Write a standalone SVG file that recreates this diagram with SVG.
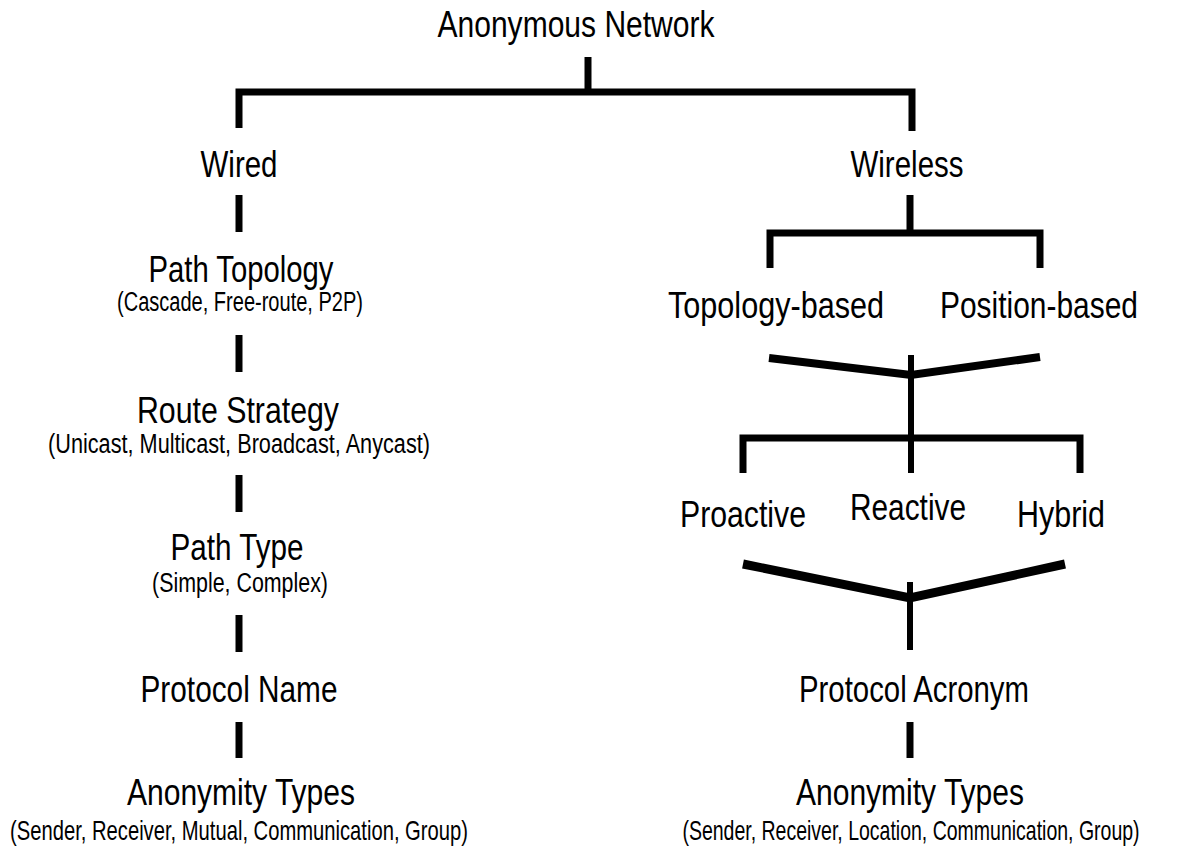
<svg xmlns="http://www.w3.org/2000/svg" width="1183" height="852" viewBox="0 0 1183 852">
<style>
text{font-family:"Liberation Sans Narrow","Liberation Sans",Arial,sans-serif;fill:#000;text-anchor:middle}
.m{font-size:37px}
.s{font-size:27px}
.c line,.c polyline{stroke:#000;fill:none;stroke-linecap:butt;stroke-linejoin:miter}
</style>
<rect width="1183" height="852" fill="#fff"/>
<g class="c" id="connectors" stroke-width="7">
<line x1="588" y1="57" x2="588" y2="92"/>
<polyline points="239,128 239,92 912,92 912,131"/>
<line x1="239" y1="195" x2="239" y2="232"/>
<line x1="239" y1="335" x2="239" y2="372"/>
<line x1="239" y1="475" x2="239" y2="512"/>
<line x1="239" y1="615" x2="239" y2="652"/>
<line x1="239" y1="722" x2="239" y2="758"/>
<line x1="910" y1="195" x2="910" y2="233"/>
<polyline points="770,268 770,233 1040,233 1040,268"/>
<polyline points="769,358 911,375 1040,357" stroke-width="8"/>
<line x1="911" y1="355" x2="911" y2="473" stroke-width="6"/>
<polyline points="743,473 743,438 1080,438 1080,473"/>
<polyline points="743,564 910,598 1065,564" stroke-width="9"/>
<line x1="910" y1="582" x2="910" y2="650" stroke-width="6"/>
<line x1="910" y1="722" x2="910" y2="758"/>
</g>
<g id="root"><text class="m" x="576" y="37" textLength="277" lengthAdjust="spacingAndGlyphs">Anonymous Network</text></g>
<g id="wired"><text class="m" x="239" y="177" textLength="77" lengthAdjust="spacingAndGlyphs">Wired</text></g>
<g id="wireless"><text class="m" x="907" y="177" textLength="113" lengthAdjust="spacingAndGlyphs">Wireless</text></g>
<g id="path-topology">
<text class="m" x="241" y="282" textLength="185" lengthAdjust="spacingAndGlyphs">Path Topology</text>
<text class="s" x="240" y="311" textLength="246" lengthAdjust="spacingAndGlyphs">(Cascade, Free-route, P2P)</text>
</g>
<g id="route-strategy">
<text class="m" x="238" y="423" textLength="202" lengthAdjust="spacingAndGlyphs">Route Strategy</text>
<text class="s" x="239" y="453" textLength="382" lengthAdjust="spacingAndGlyphs">(Unicast, Multicast, Broadcast, Anycast)</text>
</g>
<g id="path-type">
<text class="m" x="237" y="560" textLength="133" lengthAdjust="spacingAndGlyphs">Path Type</text>
<text class="s" x="240" y="592" textLength="176" lengthAdjust="spacingAndGlyphs">(Simple, Complex)</text>
</g>
<g id="protocol-name"><text class="m" x="239" y="702" textLength="197" lengthAdjust="spacingAndGlyphs">Protocol Name</text></g>
<g id="anon-left">
<text class="m" x="241" y="805" textLength="228" lengthAdjust="spacingAndGlyphs">Anonymity Types</text>
<text class="s" transform="translate(239,840) scale(0.72,1)" x="0" y="0" textLength="636" lengthAdjust="spacingAndGlyphs">(Sender, Receiver, Mutual, Communication, Group)</text>
</g>
<g id="topology-based"><text class="m" x="776" y="318" textLength="216" lengthAdjust="spacingAndGlyphs">Topology-based</text></g>
<g id="position-based"><text class="m" x="1039" y="318" textLength="198" lengthAdjust="spacingAndGlyphs">Position-based</text></g>
<g id="proactive"><text class="m" x="743" y="527" textLength="126" lengthAdjust="spacingAndGlyphs">Proactive</text></g>
<g id="reactive"><text class="m" x="908" y="520" textLength="116" lengthAdjust="spacingAndGlyphs">Reactive</text></g>
<g id="hybrid"><text class="m" x="1061" y="527" textLength="88" lengthAdjust="spacingAndGlyphs">Hybrid</text></g>
<g id="protocol-acronym"><text class="m" x="914" y="702" textLength="230" lengthAdjust="spacingAndGlyphs">Protocol Acronym</text></g>
<g id="anon-right">
<text class="m" x="910" y="805" textLength="228" lengthAdjust="spacingAndGlyphs">Anonymity Types</text>
<text class="s" transform="translate(911,840) scale(0.72,1)" x="0" y="0" textLength="635" lengthAdjust="spacingAndGlyphs">(Sender, Receiver, Location, Communication, Group)</text>
</g>
</svg>
